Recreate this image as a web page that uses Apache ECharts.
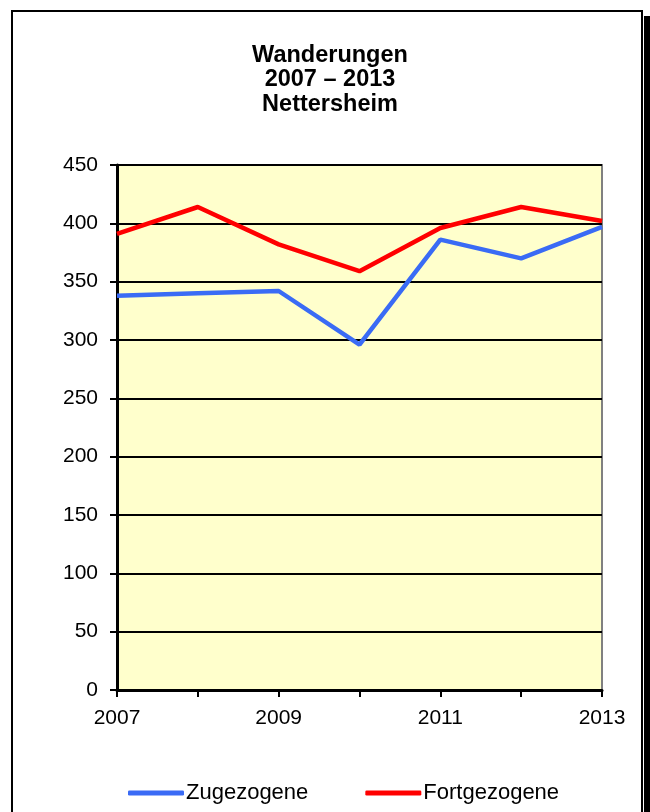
<!DOCTYPE html>
<html><head><meta charset="utf-8">
<script src="https://cdn.jsdelivr.net/npm/echarts@6/dist/echarts.min.js"></script>
<style>html,body{margin:0;padding:0;background:#fff}#c{width:650px;height:812px}</style>
</head><body><div id="c"></div>
<script>
const years = ['2007','2008','2009','2010','2011','2012','2013'];
const zugezogene = [338, 340, 342, 296, 386, 370, 397];
const fortgezogene = [391, 414, 382, 359, 396, 414, 402];
const yTicks = {min: 0, max: 450, interval: 50};
const titleText = 'Wanderungen\n2007 – 2013\nNettersheim';

const chart = echarts.init(document.getElementById('c'), null, {renderer: 'canvas'});
const font = 'Liberation Sans, Arial, sans-serif';
chart.setOption({
  animation: false,
  backgroundColor: '#fff',
  graphic: [
    {type: 'rect', shape: {x: 644, y: 16, width: 10, height: 800}, style: {fill: '#000'}, z: 0},
    {type: 'rect', shape: {x: 12, y: 11, width: 630, height: 820}, style: {fill: '#fff', stroke: '#000', lineWidth: 2}, z: 1}
  ],
  title: {
    text: titleText, left: 325, textAlign: 'center', top: 38,
    textStyle: {fontFamily: font, fontSize: 23.5, fontWeight: 'bold', color: '#000', lineHeight: 24.5}
  },
  grid: {left: 117, right: 48, top: 165, bottom: 122, show: true, backgroundColor: '#FFFFCC', borderColor: '#808080', borderWidth: 2, z: 3},
  legend: {
    top: 777, left: 123, itemGap: 57, itemWidth: 56, itemHeight: 5, icon: 'roundRect',
    textStyle: {fontFamily: font, fontSize: 22, color: '#000', padding: [0,0,0,-3]},
    data: ['Zugezogene', 'Fortgezogene']
  },
  xAxis: {
    type: 'category', data: years, boundaryGap: false,
    axisLine: {lineStyle: {color: '#000', width: 3}},
    axisTick: {show: true, length: 7, lineStyle: {color: '#000', width: 2}, interval: 0},
    axisLabel: {interval: 1, fontFamily: font, fontSize: 21, color: '#000', margin: 18},
    splitLine: {show: false}, z: 5
  },
  yAxis: {
    type: 'value', min: yTicks.min, max: yTicks.max, interval: yTicks.interval,
    axisLine: {show: true, lineStyle: {color: '#000', width: 3}},
    axisTick: {show: true, length: 7, lineStyle: {color: '#000', width: 2}},
    axisLabel: {fontFamily: font, fontSize: 21, color: '#000', margin: 19},
    splitLine: {show: true, lineStyle: {color: '#000', width: 2}}, z: 5
  },
  series: [
    {name: 'Zugezogene', type: 'line', data: zugezogene, showSymbol: false, symbol: 'none',
     lineStyle: {color: '#3A6BF5', width: 4.5}, itemStyle: {color: '#3A6BF5'}, z: 6},
    {name: 'Fortgezogene', type: 'line', data: fortgezogene, showSymbol: false, symbol: 'none',
     lineStyle: {color: '#FF0000', width: 4.5}, itemStyle: {color: '#FF0000'}, z: 6}
  ]
});
</script></body></html>
